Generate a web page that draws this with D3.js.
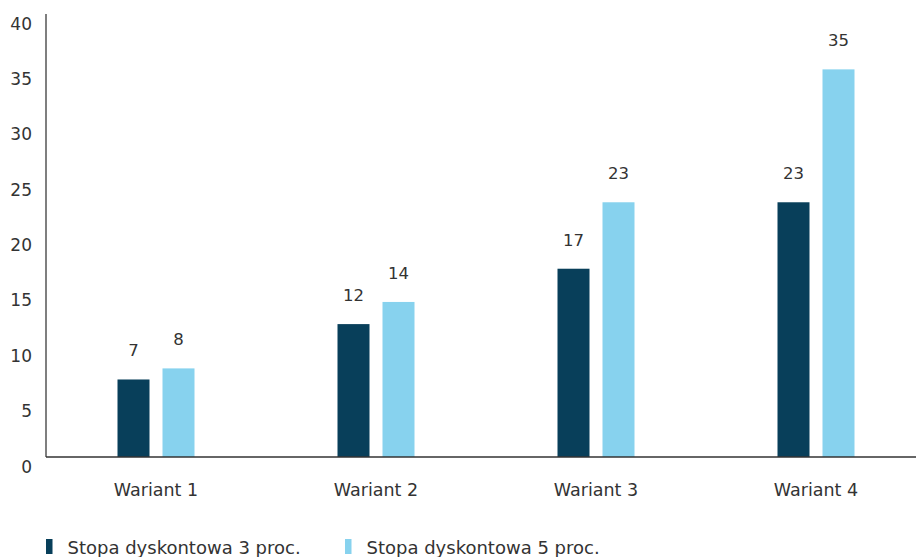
<!DOCTYPE html>
<html><head><meta charset="utf-8">
<script src="https://cdn.jsdelivr.net/npm/d3@7"></script>
<style>body{margin:0;background:#fff}svg{display:block}text{font-family:"DejaVu Sans",sans-serif;fill:#333}</style>
</head><body><svg id="c" width="916" height="557"></svg>
<script>
const categories = ["Wariant 1","Wariant 2","Wariant 3","Wariant 4"];
const seriesNames = ["Stopa dyskontowa 3 proc.","Stopa dyskontowa 5 proc."];
const rate3 = [7,12,17,23];
const rate5 = [8,14,23,35];
const yTicks = [0,5,10,15,20,25,30,35,40];
const colors = ["#083f5a","#87d2ee"];

const svg = d3.select("#c");
const x0 = 46, x1 = 926, yTop = 14, yBase = 457;
const x = d3.scaleBand().domain(categories).range([x0,x1]).paddingInner(0).paddingOuter(0);
const y = d3.scaleLinear().domain([0,40]).range([yBase,yTop]);
const barW = 32, gap = 13;
const series = [rate3, rate5];

// bars
series.forEach((vals, si) => {
  const g = svg.append("g");
  categories.forEach((c, i) => {
    const cx = x(c) + x.bandwidth()/2;
    const bx = si === 0 ? cx - gap/2 - barW : cx + gap/2;
    g.append("rect").attr("x", bx).attr("y", y(vals[i])).attr("width", barW)
      .attr("height", yBase - y(vals[i])).attr("fill", colors[si]);
    g.append("text").attr("x", bx + barW/2).attr("y", y(vals[i]) - 23)
      .attr("text-anchor","middle").attr("font-size",16.5).text(vals[i]);
  });
});

// y axis
const ya = svg.append("g");
ya.append("line").attr("x1",x0).attr("x2",x0).attr("y1",yTop).attr("y2",yBase)
  .attr("stroke","#555").attr("stroke-width",1.5);
yTicks.forEach(t => {
  ya.append("text").attr("x",32).attr("y",y(t)+15.5).attr("text-anchor","end")
    .attr("font-size",17).text(t);
});
// x axis
const xa = svg.append("g");
xa.append("line").attr("x1",x0).attr("x2",916).attr("y1",yBase).attr("y2",yBase)
  .attr("stroke","#333").attr("stroke-width",1.5);
categories.forEach(c => {
  xa.append("text").attr("x", x(c)+x.bandwidth()/2).attr("y",496)
    .attr("text-anchor","middle").attr("font-size",17.5).text(c);
});

// legend
const legX = [46, 345];
seriesNames.forEach((n, i) => {
  svg.append("rect").attr("x",legX[i]).attr("y",539).attr("width",6.5).attr("height",15).attr("fill",colors[i]);
  svg.append("text").attr("x",legX[i]+21.5).attr("y",554).attr("font-size",18).text(n);
});
</script></body></html>
